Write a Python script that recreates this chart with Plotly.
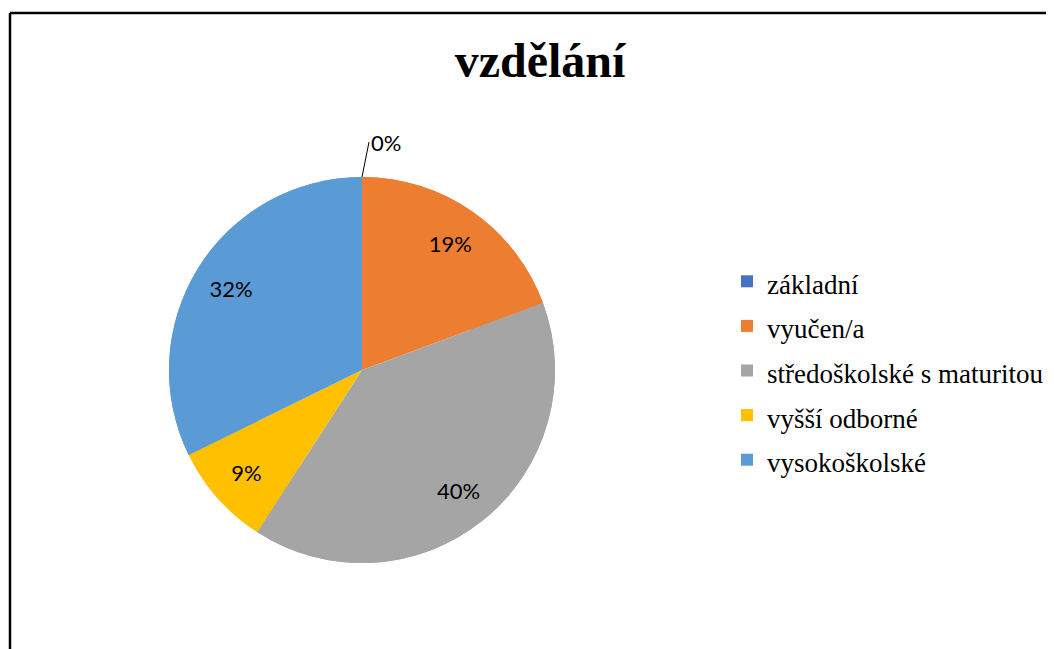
import plotly.graph_objects as go

categories = ["základní", "vyučen/a", "středoškolské s maturitou", "vyšší odborné", "vysokoškolské"]
counts = [0, 18, 37, 8, 30]
colors = ["#4472C4", "#ED7D31", "#A5A5A5", "#FFC000", "#5B9BD5"]

W, H = 1054, 649
OFF = 8  # page body margin offset

# pie geometry in figure pixels
cx, cy, R = 362 - OFF, 370 - OFF, 193
dom = dict(x=[(cx - R) / W, (cx + R) / W], y=[(H - (cy + R)) / H, (H - (cy - R)) / H])

serif = "Liberation Serif, Times New Roman, serif"
sans = "Lato, Open Sans, sans-serif"

total = sum(counts)
labels_txt = [f"{v / total:.0%}" for v in counts]
legend_txt = [f'<span style="font-size:27px">{c}</span>' for c in categories]

fig = go.Figure()

# full pie (no text) underneath
fig.add_trace(go.Pie(
    labels=legend_txt, values=counts, sort=False, direction="clockwise", rotation=0,
    marker=dict(colors=colors, line=dict(width=0)),
    textinfo="none", domain=dom, showlegend=False, hoverinfo="skip",
))

# ring on top that carries the percentage labels further out (like Excel)
fig.add_trace(go.Pie(
    labels=legend_txt, values=counts, sort=False, direction="clockwise", rotation=0,
    hole=0.6,
    marker=dict(colors=colors, line=dict(width=0)),
    text=labels_txt, texttemplate="%{text}",
    textposition=["none", "inside", "inside", "inside", "inside"],
    insidetextorientation="horizontal",
    textfont=dict(family=sans, size=22, color="#000000"),
    domain=dom, showlegend=True, hoverinfo="percent",
))

fig.update_layout(
    width=W, height=H,
    margin=dict(l=0, r=0, t=0, b=0),
    paper_bgcolor="white",
    title=dict(text="<b>vzdělání</b>", x=(540 - OFF) / W, xanchor="center", y=1 - (60 - OFF) / H, yanchor="middle",
               font=dict(family=serif, size=48, color="#000000")),
    legend=dict(x=(727 - OFF) / W, xanchor="left", y=1 - (254 - OFF) / H, yanchor="top",
                font=dict(family=serif, size=32, color="#000000"),
                bgcolor="rgba(0,0,0,0)", itemwidth=30),
    annotations=[dict(
        x=(dom["x"][0] + dom["x"][1]) / 2, y=dom["y"][1], xref="paper", yref="paper",
        text=labels_txt[0], showarrow=True, arrowhead=0, arrowwidth=1, arrowcolor="#000000",
        ax=7, ay=-35, xanchor="left", yanchor="middle",
        font=dict(family=sans, size=22, color="#000000"),
    )],
    shapes=[
        dict(type="line", xref="paper", yref="paper", x0=(10 - OFF) / W, x1=1.01, y0=1 - (13 - OFF) / H, y1=1 - (13 - OFF) / H,
             line=dict(color="#000000", width=2.5)),
        dict(type="line", xref="paper", yref="paper", x0=(10 - OFF) / W, x1=(10 - OFF) / W, y0=1 - (13 - OFF) / H, y1=-0.01,
             line=dict(color="#000000", width=2.5)),
    ],
)

fig.write_html("out.html")
